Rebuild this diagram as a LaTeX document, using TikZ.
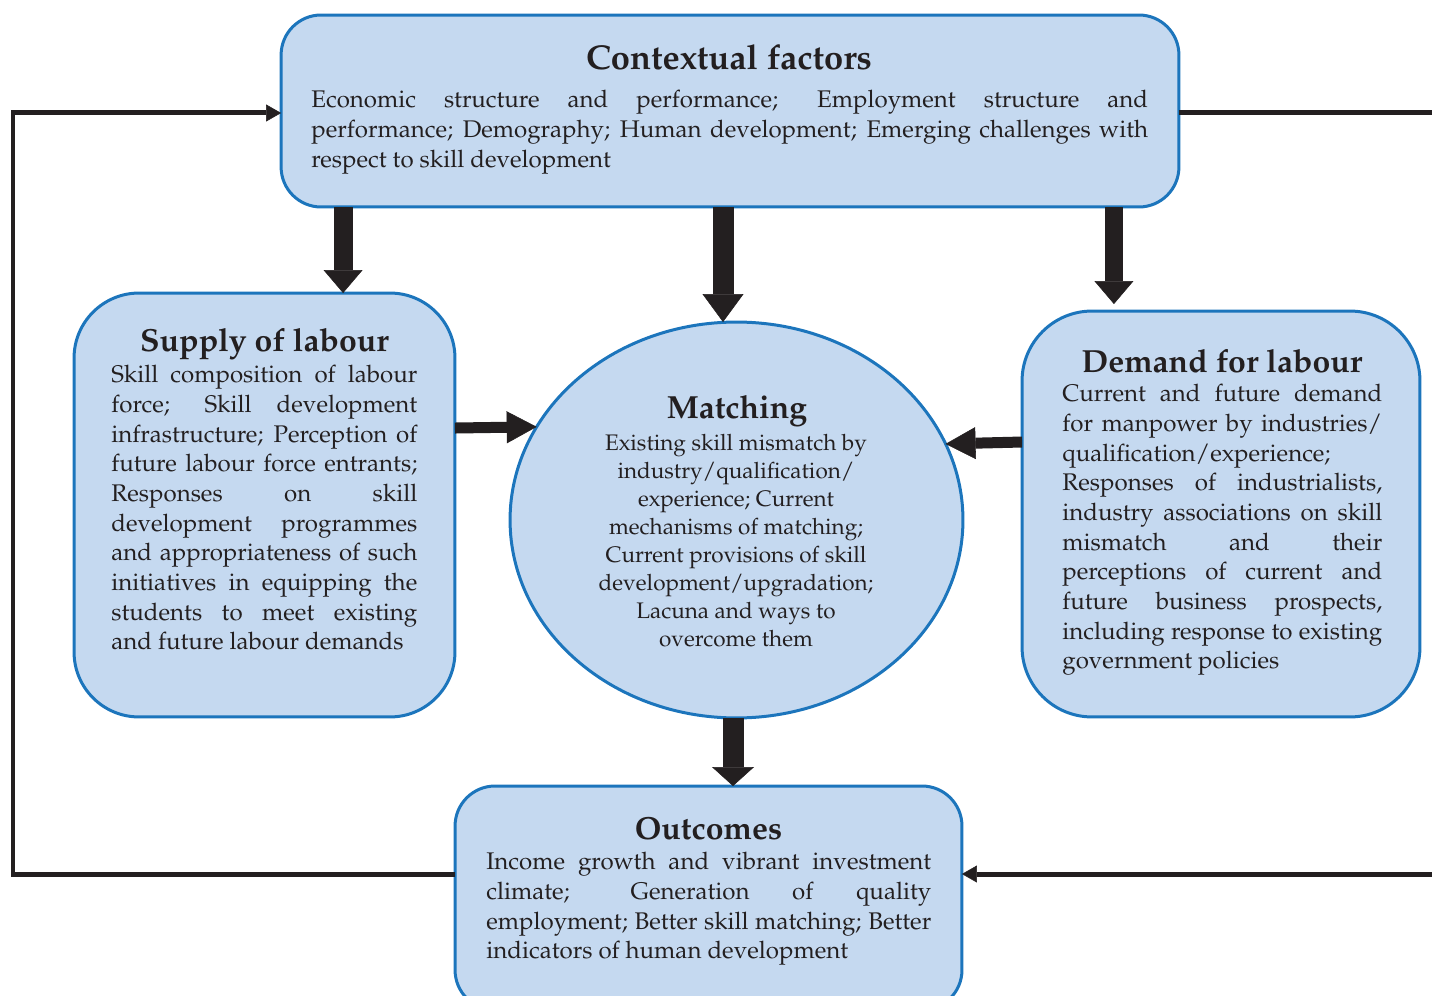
\documentclass[tikz,border=0pt]{standalone}
\usepackage[T1]{fontenc}
\usepackage{mathpazo}
\usetikzlibrary{arrows.meta, positioning, calc, shapes.geometric}
\definecolor{boxfill}{RGB}{197,217,240}
\definecolor{boxline}{RGB}{28,117,188}
\definecolor{inkcolor}{RGB}{35,31,32}
\tikzset{
  panel/.style={draw=boxline, fill=boxfill, line width=0.06cm, rounded corners=#1, inner sep=0pt, outer sep=0pt},
  matchshape/.style={ellipse, draw=boxline, fill=boxfill, line width=0.06cm, inner sep=0pt, outer sep=0pt},
  heading/.style={font=\fontsize{18.2}{21}\selectfont\bfseries, text=inkcolor, inner sep=0pt},
  bodytext/.style={font=\fontsize{13.7}{16.9}\selectfont, text=inkcolor, align=justify, inner sep=0pt, anchor=north west, text width=#1},
  fatarrow/.style={draw=inkcolor, line width=0.4cm, -{Triangle[length=0.46cm, width=0.78cm, line width=0.3pt]}},
  sidearrow/.style={draw=inkcolor, line width=0.22cm, -{Triangle[length=0.6cm, width=0.64cm, line width=0.3pt]}},
  thinline/.style={draw=inkcolor, line width=0.1cm},
  thinarrow/.style={thinline, -{Triangle[length=0.3cm, width=0.34cm, line width=0.3pt]}}
}

\begin{document}
\begin{tikzpicture}[x=0.02cm, y=-0.02cm]
    \useasboundingbox (0,0) rectangle (1432,996);
    \clip (0,0) rectangle (1432,996);

    % boxes
    \node[panel=0.8cm, minimum width=17.96cm, minimum height=3.84cm] (ctx) at (730,111) {};
    \node[panel=1.3cm, minimum width=7.62cm, minimum height=8.48cm] (sup) at (264.5,505) {};
    \node[panel=1.4cm, minimum width=7.96cm, minimum height=8.12cm] (dem) at (1221,514) {};
    \node[matchshape, minimum width=9.06cm, minimum height=7.92cm] (mat) at (736.5,520) {};
    \node[panel=0.8cm, minimum width=10.14cm, minimum height=4.48cm] (out) at (708.5,898) {};

    % headings
    \node[heading, font=\fontsize{19.6}{22}\selectfont\bfseries] (ctxT) at (729,57) {Contextual factors};
    \node[heading] (supT) at (264.5,344) {Supply of labour};
    \node[heading] (demT) at (1222,361) {Demand for labour};
    \node[heading] (matT) at (737,411) {Matching};
    \node[heading] (outT) at (708.5,828) {Outcomes};

    % texts
    \node[bodytext=16.74cm] (ctxB) at (311,90) {Economic structure and performance; Employment structure and\linebreak
        performance; Demography; Human development; Emerging challenges with\linebreak
        respect to skill development};
    \node[bodytext=6.12cm] (supB) at (111,365) {Skill composition of labour\linebreak
        force; Skill development\linebreak
        infrastructure; Perception of\linebreak
        future labour force entrants;\linebreak
        Responses on skill\linebreak
        development programmes\linebreak
        and appropriateness of such\linebreak
        initiatives in equipping the\linebreak
        students to meet existing\linebreak
        and future labour demands};
    \node[bodytext=6.4cm] (demB) at (1062,384) {Current and future demand\linebreak
        for manpower by industries/\linebreak
        qualification/experience;\\
        Responses of industrialists,\linebreak
        industry associations on skill\linebreak
        mismatch and their\linebreak
        perceptions of current and\linebreak
        future business prospects,\linebreak
        including response to existing\linebreak
        government policies};
    \node[font=\fontsize{12.8}{15.9}\selectfont, text=inkcolor, align=center, anchor=north, inner sep=0pt] (matB) at (736,434)
        {Existing skill mismatch by\\ industry/qualification/\\ experience; Current\\ mechanisms of matching;\\
         Current provisions of skill\\ development/upgradation;\\ Lacuna and ways to\\ overcome them};
    \node[bodytext=8.9cm] (outB) at (486,852) {Income growth and vibrant investment\linebreak
        climate; Generation of quality\linebreak
        employment; Better skill matching; Better\linebreak
        indicators of human development};

    % thick arrows
    \draw[fatarrow, line width=0.38cm] ([xshift=1.24cm]ctx.south west) coordinate (f1) -- (f1 |- sup.north);
    \draw[fatarrow, line width=0.42cm, -{Triangle[length=0.56cm, width=0.82cm, line width=0.3pt]}]
        ([xshift=-0.14cm]ctx.south) coordinate (f2) -- (f2 |- mat.north);
    \draw[fatarrow, line width=0.36cm, shorten >=0.14cm] ([xshift=-1.3cm]ctx.south east) coordinate (f3) -- (f3 |- dem.north);
    \draw[fatarrow, line width=0.42cm, -{Triangle[length=0.38cm, width=0.84cm, line width=0.3pt]}]
        ([xshift=-0.07cm]mat.south) coordinate (f4) -- (f4 |- out.north);
    \draw[sidearrow] ([yshift=1.54cm]sup.east) -- (mat.155);
    \draw[sidearrow] ([yshift=1.44cm]dem.west) -- (mat.20);

    % feedback loop
    \coordinate (lft) at (13,0);
    \coordinate (rgt) at (1445,0);
    \draw[thinarrow] ([yshift=0.48cm]out.west) coordinate (o1) -- (o1 -| lft) |- ([yshift=-0.04cm]ctx.west);
    \draw[thinline] ([yshift=-0.04cm]ctx.east) coordinate (c1) -- (c1 -| rgt);
    \draw[thinarrow] (o1 -| rgt) -- ([yshift=0.48cm]out.east);
\end{tikzpicture}
\end{document}
